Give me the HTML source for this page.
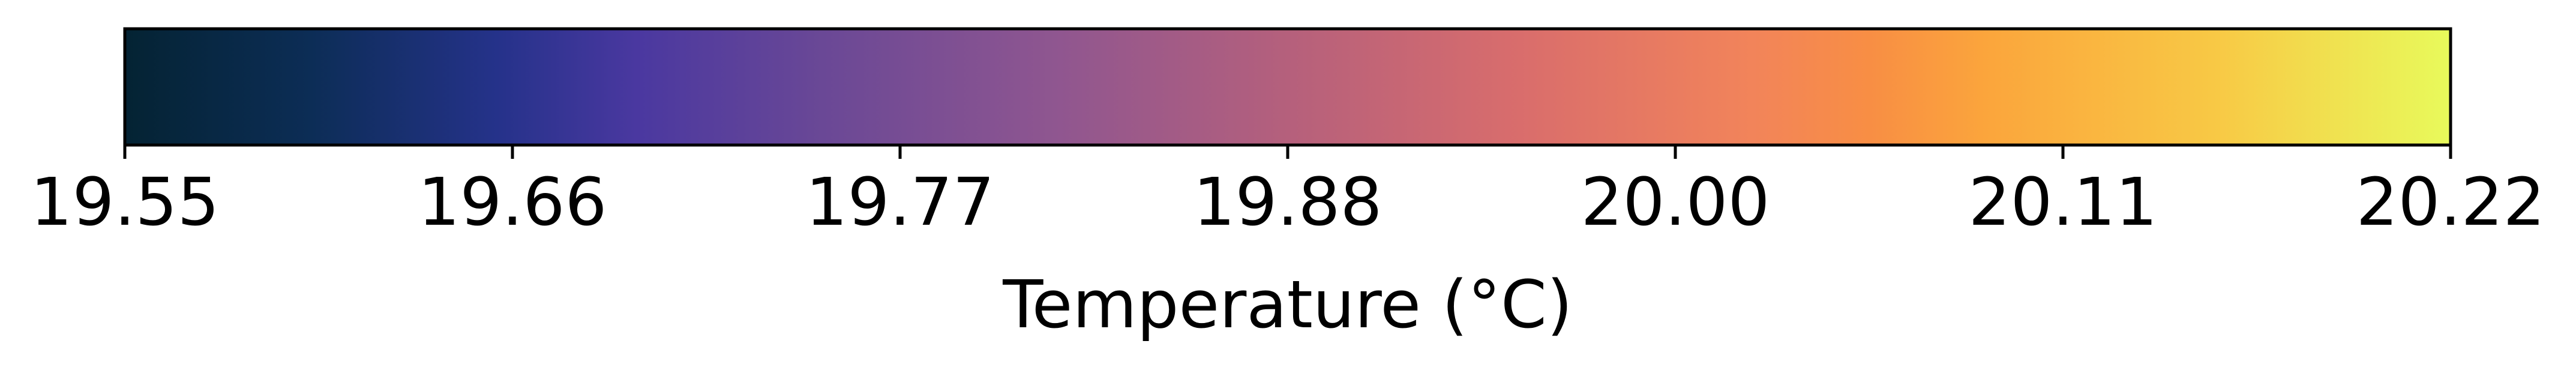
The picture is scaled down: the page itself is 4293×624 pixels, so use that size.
<!DOCTYPE html>
<html><head><meta charset="utf-8"><style>
html,body{margin:0;padding:0;background:#fff;width:4293px;height:624px;overflow:hidden}
text{font-family:"DejaVu Sans","Liberation Sans",sans-serif}
</style></head><body>
<svg id="c" width="4293" height="624" xmlns="http://www.w3.org/2000/svg">
<defs><linearGradient id="g" x1="0" x2="1" y1="0" y2="0">
<stop offset="0" stop-color="#042333"/><stop offset="0.08" stop-color="#0c2d56"/>
<stop offset="0.16" stop-color="#25328a"/><stop offset="0.22" stop-color="#4a38a0"/>
<stop offset="0.3" stop-color="#6a4896"/><stop offset="0.4" stop-color="#8f5690"/>
<stop offset="0.5" stop-color="#b5607c"/><stop offset="0.6" stop-color="#d96d6c"/>
<stop offset="0.7" stop-color="#f2845a"/><stop offset="0.75" stop-color="#f88e44"/>
<stop offset="0.8" stop-color="#fba53c"/><stop offset="0.9" stop-color="#f8c945"/>
<stop offset="1" stop-color="#e8fa5b"/></linearGradient></defs>
<rect x="208" y="48" width="3876" height="194" fill="url(#g)" stroke="#000" stroke-width="5"/>
<g id="ticks"></g>
<text x="2146" y="546" font-size="110" text-anchor="middle">Temperature (°C)</text>
</svg>
<script>
const tickLabels=["19.55","19.66","19.77","19.88","20.00","20.11","20.22"];
const tickValues=[19.55,19.66,19.77,19.88,20.00,20.11,20.22];
const x0=208,x1=4084;
const g=document.getElementById('ticks');
const ns="http://www.w3.org/2000/svg";
tickLabels.forEach((t,i)=>{
  const x=x0+i*(x1-x0)/(tickLabels.length-1);
  const l=document.createElementNS(ns,'line');
  l.setAttribute('x1',x);l.setAttribute('x2',x);l.setAttribute('y1',242);l.setAttribute('y2',265);
  l.setAttribute('stroke','#000');l.setAttribute('stroke-width','5');
  
  
  g.appendChild(l);
  const tx=document.createElementNS(ns,'text');
  tx.setAttribute('x',x);tx.setAttribute('y',375);tx.setAttribute('font-size','110');
  tx.setAttribute('text-anchor','middle');tx.textContent=t;
  
  
  g.appendChild(tx);
});
</script>
</body></html>
